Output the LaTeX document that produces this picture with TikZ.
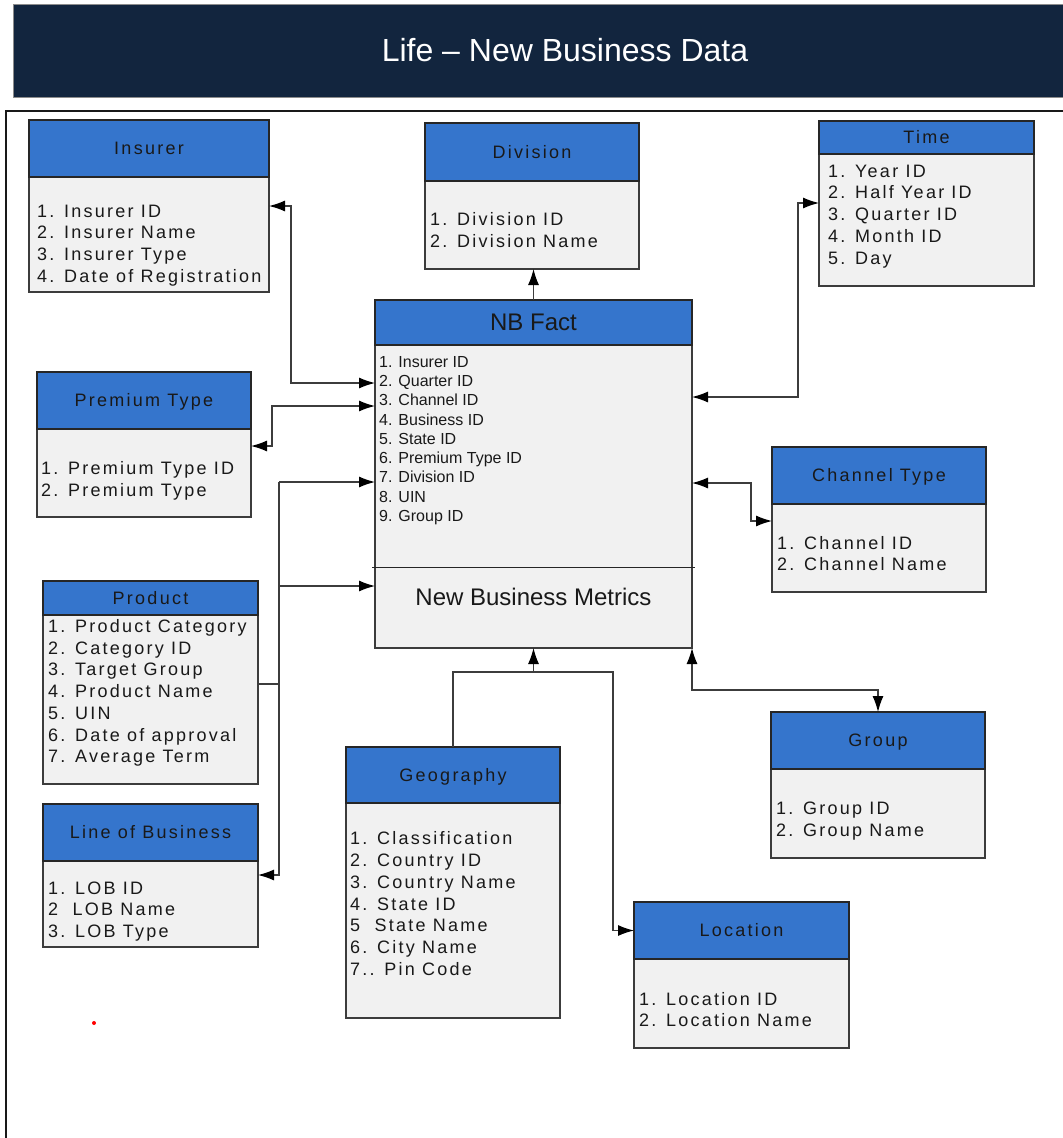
\documentclass[tikz,border=0pt]{standalone}
\usepackage{fontspec}
\setmainfont{Liberation Sans}
\newfontfamily\tabfont[LetterSpace=12.5]{Liberation Sans}
\usetikzlibrary{arrows.meta,calc}

\definecolor{navy}{HTML}{12253E}
\definecolor{hdrblue}{HTML}{3575CC}
\definecolor{bodygray}{HTML}{F1F1F1}
\definecolor{linegray}{HTML}{3C3C3C}

% a table: body node (#1), header node (#1-h)
% #2,#3 top-left corner, #4 width, #5 total height, #6 header height, #7 title
\newcommand\tablebox[7]{%
  \node[boxbody, minimum width=#4pt, minimum height=#5pt] (#1) at (#2,#3) {};
  \node[boxhead, minimum width=#4pt, minimum height=#6pt] (#1-h) at (#2,#3) {#7};
}
% a column of attribute lines: name prefix, style, x, first y, step, lines
\newcommand\attrlist[6]{%
  \foreach \t [count=\i] in {#6} {\node[#2] (#1-\i) at (#3, {#4+(\i-1)*#5}) {\t};}
}

\begin{document}
\begin{tikzpicture}[x=1pt,y=-1pt,
  boxbody/.style={draw=linegray, fill=bodygray, line width=1.2pt, rectangle,
    anchor=north west, inner sep=0pt, outer sep=0pt},
  boxhead/.style={draw=black!85, fill=hdrblue, line width=1.2pt, rectangle,
    anchor=north west, inner sep=0pt, outer sep=0pt, text=black!90,
    font=\tabfont\fontsize{18}{21.7}\selectfont, text height=12.9pt, text depth=0pt},
  attr/.style={anchor=west, inner sep=0pt, text=black!90,
    font=\tabfont\fontsize{18}{21.7}\selectfont, text height=12.9pt, text depth=0pt},
  nbattr/.style={anchor=west, inner sep=0pt, text=black!90,
    font=\fontsize{16}{19.25}\selectfont, text height=11.5pt, text depth=0pt},
  conn/.style={draw=linegray, line width=1.2pt},
  tip/.tip={Latex[length=16pt,width=11pt,color=black]},
]
\useasboundingbox (0,0) rectangle (1063,1138);

% title bar
\node[fill=navy, draw=black!45, line width=0.8pt, anchor=north west, inner sep=0pt,
  minimum width=1060pt, minimum height=93pt] (titlebar) at (13,4) {};
\node[text=white, font=\fontsize{32}{38}\selectfont, inner sep=0pt] (title) at (565,50)
  {Life – New Business Data};

% frame
\draw[line width=2.2pt, black!90] (1070,111) -- (6,111) -- (6,1145);

% fact table
\tablebox{nb}{375}{300}{317}{348}{45}{}
\node[font=\fontsize{24}{28}\selectfont, text=black!90, inner sep=0pt] (nb-title) at (533.5,322.5) {NB Fact};
\attrlist{nb}{nbattr}{379}{361.7}{19.25}{1. Insurer ID,2. Quarter ID,3. Channel ID,4. Business ID,5. State ID,6. Premium Type ID,7. Division ID,8. UIN,9. Group ID}
\draw[line width=1pt, black!85] (372,567) -- (695,567);
\node[font=\fontsize{24}{28}\selectfont, text=black!90, inner sep=0pt] (nb-metrics) at (533.5,597) {New Business Metrics};

% dimension tables
\tablebox{ins}{29}{120}{240}{172}{57}{Insurer}
\attrlist{ins}{attr}{37}{210.7}{21.75}{1. Insurer ID,2. Insurer Name,3. Insurer Type,4. Date of Registration}

\tablebox{prem}{37}{372}{214}{145}{57}{Premium Type}
\attrlist{prem}{attr}{41}{468.3}{21.7}{1. Premium Type ID,2. Premium Type}

\tablebox{div}{425}{123}{214}{146}{58}{Division}
\attrlist{div}{attr}{430}{219.3}{21.7}{1. Division ID,2. Division Name}

\tablebox{time}{819}{121}{215}{165}{33}{Time}
\attrlist{time}{attr}{828}{170.7}{21.75}{1. Year ID,2. Half Year ID,3. Quarter ID,4. Month ID,5. Day}

\tablebox{chan}{772}{447}{214}{145}{57}{Channel Type}
\attrlist{chan}{attr}{777}{542.7}{21.7}{1. Channel ID,2. Channel Name}

\tablebox{prod}{43}{581}{215}{203}{34}{Product}
\attrlist{prod}{attr}{48}{626}{21.72}{1. Product Category,2. Category ID,3. Target Group,4. Product Name,5. UIN,6. Date of approval,7. Average Term}

\tablebox{lob}{43}{804}{215}{143}{57}{Line of Business}
\attrlist{lob}{attr}{48}{887.7}{21.8}{1. LOB ID,2~ LOB Name,3. LOB Type}

\tablebox{geo}{346}{747}{214}{271}{56}{Geography}
\attrlist{geo}{attr}{350}{838.3}{21.8}{1. Classification,2. Country ID,3. Country Name,4. State ID,5~ State Name,6. City Name,7.. Pin Code}

\tablebox{loc}{634}{902}{215}{146}{57}{Location}
\attrlist{loc}{attr}{639}{999}{21.5}{1. Location ID,2. Location Name}

\tablebox{grp}{771}{712}{214}{146}{57}{Group}
\attrlist{grp}{attr}{776}{807.7}{22.3}{1. Group ID,2. Group Name}

% connectors
\draw[conn, tip-tip] ($(ins.north east)+(0,86)$) -- ++(22,0) |- ($(nb.north west)+(0,83)$);
\draw[conn, tip-tip] ($(prem.north east)+(0,74)$) -- ++(21,0) |- ($(nb.north west)+(0,106)$);

\coordinate (pj) at ($(prod.north east)+(21,103)$);
\coordinate (ttop) at ($(pj)+(0,-202)$);
\coordinate (tmid) at ($(pj)+(0,-98)$);
\coordinate (tbot) at ($(pj)+(0,191)$);
\draw[conn] (prod.east |- pj) -- (pj);
\draw[conn, -tip] (ttop) -- (ttop -| nb.west);
\draw[conn, -tip] (tmid) -- (tmid -| nb.west);
\draw[conn, -tip] (ttop) -- (tbot) -- (tbot -| lob.east);

\draw[conn, -tip] (nb.north) -- (nb.north |- div.south);
\draw[conn, tip-tip] ($(nb.north east)+(0,97)$) -- ++(106,0) |- ($(time.north west)+(0,82)$);
\draw[conn, tip-tip] ($(nb.north east)+(0,183)$) -- ++(59,0) |- ($(chan.north west)+(0,74)$);
\draw[conn, tip-tip] (nb.south east) -- ++(0,42) -| (grp.north);

\coordinate (gj) at ($(geo.north)+(0,-75)$);
\draw[conn, -tip] (geo.north) -- (gj) -- ++(160,0) |- (loc-h.west);
\draw[conn, -tip] (nb.south |- gj) -- (nb.south);

% stray mark
\fill[red] (94,1023) circle (2);
\end{tikzpicture}
\end{document}
